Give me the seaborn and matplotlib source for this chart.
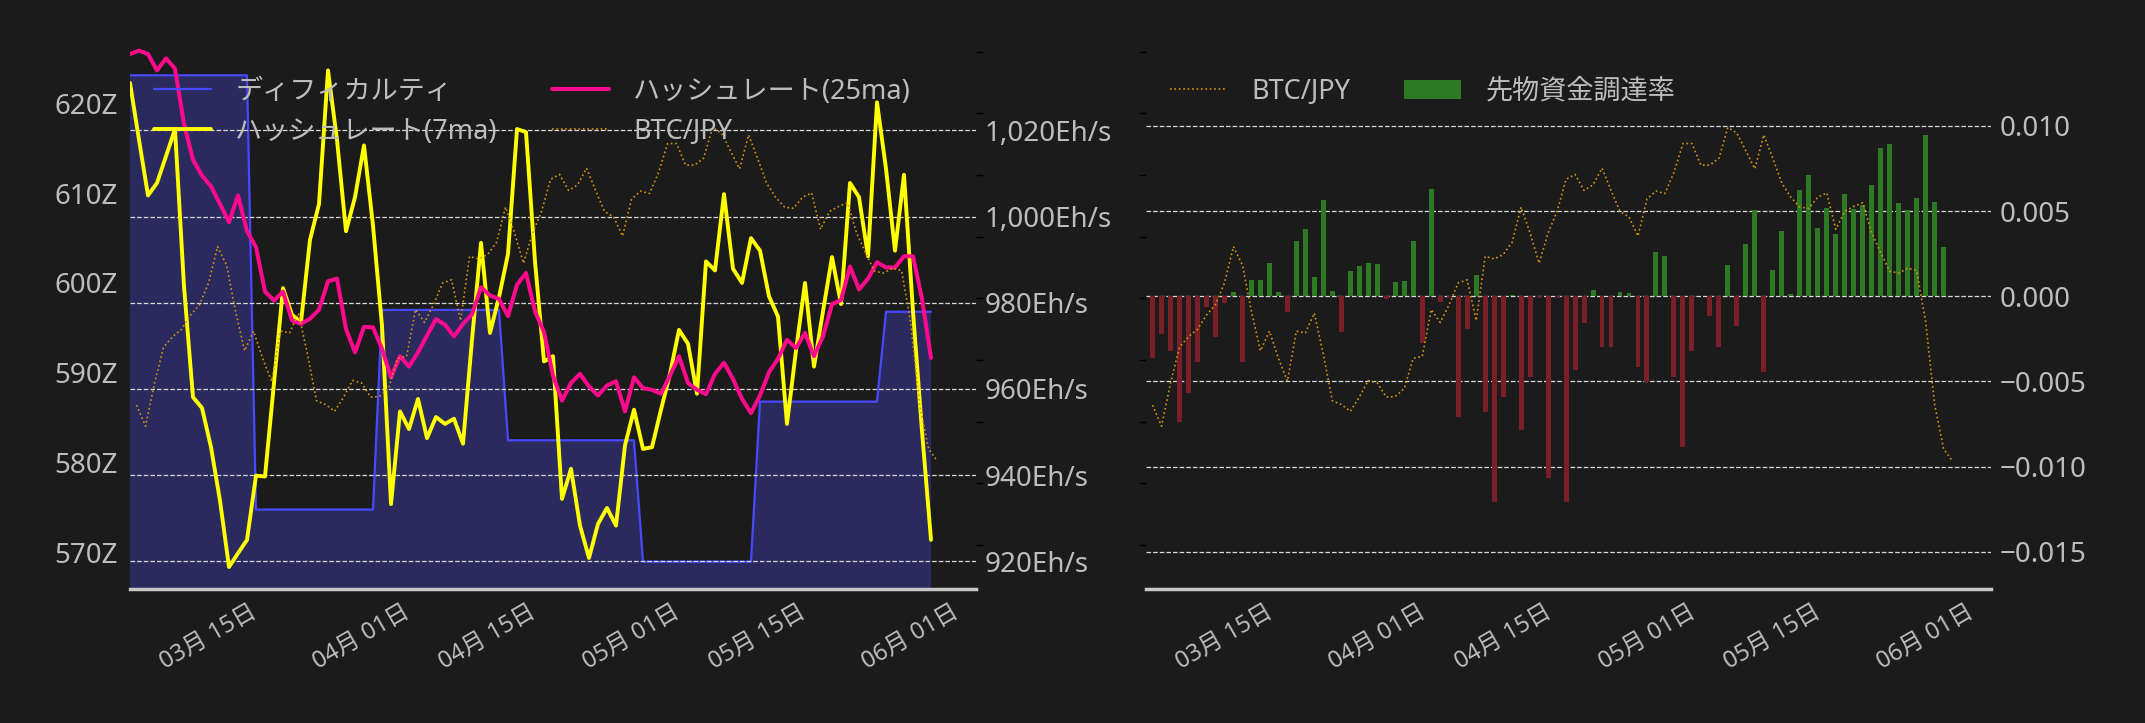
import matplotlib
matplotlib.use("Agg")
import matplotlib.pyplot as plt
import matplotlib.dates as mdates
import matplotlib.ticker as mticker
import pandas as pd
import seaborn as sns

# ---- data ----
hr_dates = pd.date_range("2025-03-06 06:30", periods=90, freq="D")
day_dates = pd.date_range("2025-03-06", periods=90, freq="D")      # 資金調達率
btc_dates = pd.date_range("2025-03-07", periods=90, freq="D")      # BTC/JPY

difficulty = [
    623.1, 623.1, 623.1, 623.1, 623.1, 623.1, 623.1, 623.1, 623.1, 623.1,
    623.1, 623.1, 623.1, 623.1, 574.8, 574.8, 574.8, 574.8, 574.8, 574.8,
    574.8, 574.8, 574.8, 574.8, 574.8, 574.8, 574.8, 574.8, 597.0, 597.0,
    597.0, 597.0, 597.0, 597.0, 597.0, 597.0, 597.0, 597.0, 597.0, 597.0,
    597.0, 597.0, 582.5, 582.5, 582.5, 582.5, 582.5, 582.5, 582.5, 582.5,
    582.5, 582.5, 582.5, 582.5, 582.5, 582.5, 582.5, 569.0, 569.0, 569.0,
    569.0, 569.0, 569.0, 569.0, 569.0, 569.0, 569.0, 569.0, 569.0, 569.0,
    586.8, 586.8, 586.8, 586.8, 586.8, 586.8, 586.8, 586.8, 586.8, 586.8,
    586.8, 586.8, 586.8, 586.8, 596.8, 596.8, 596.8, 596.8, 596.8, 596.8,
]

hash_7ma = [
    1031.0, 1017.8, 1004.9, 1007.8, 1014.0, 1020.3, 983.8, 958.1, 955.6, 946.5,
    934.1, 918.7, 921.9, 925.0, 939.9, 939.7, 961.4, 983.4, 977.2, 975.5,
    994.6, 1002.9, 1033.9, 1017.8, 996.6, 1004.5, 1016.5, 997.9, 974.7, 933.3,
    954.8, 950.7, 957.7, 948.6, 953.5, 951.9, 953.1, 947.3, 971.4, 993.9,
    973.0, 981.3, 991.3, 1020.3, 1019.6, 989.6, 966.4, 967.6, 934.5, 941.5,
    928.3, 920.8, 928.7, 932.4, 928.3, 946.9, 955.2, 946.1, 946.5, 955.2,
    963.5, 973.7, 970.5, 958.9, 989.6, 987.5, 1005.2, 987.9, 984.6, 995.0,
    992.1, 981.5, 976.8, 951.9, 968.9, 984.6, 965.2, 978.0, 990.6, 979.7,
    1007.8, 1004.5, 990.8, 1026.5, 1011.1, 992.1, 1009.7, 978.0, 950.2, 925.0,
]

hash_25ma = [
    1037.7, 1038.5, 1037.7, 1033.9, 1036.7, 1034.3, 1021.5, 1013.2, 1009.5, 1007.0,
    1002.9, 998.7, 1004.9, 996.6, 992.9, 982.6, 980.5, 982.6, 975.9, 975.1,
    976.3, 978.4, 985.0, 985.6, 973.9, 968.5, 974.4, 974.3, 969.3, 962.7,
    967.6, 965.2, 968.5, 972.4, 976.2, 974.9, 972.2, 975.1, 977.3, 983.6,
    981.7, 980.9, 976.9, 984.2, 986.9, 978.0, 973.2, 963.1, 957.3, 961.4,
    963.5, 960.6, 958.5, 960.8, 961.8, 954.8, 962.7, 960.2, 959.8, 958.9,
    963.1, 967.6, 961.4, 959.8, 958.8, 963.5, 966.1, 962.3, 957.7, 954.4,
    958.5, 963.9, 967.0, 971.4, 969.5, 973.0, 967.6, 972.2, 979.7, 980.6,
    988.4, 983.1, 985.6, 989.4, 988.2, 988.2, 990.8, 990.8, 980.9, 967.2,
]

# BTC/JPY (百万円)
btc_jpy = [
    11.27, 10.93, 11.63, 12.21, 12.38, 12.50, 12.73, 12.90, 13.25, 13.84,
    13.54, 12.79, 12.15, 12.47, 12.03, 11.66, 12.47, 12.44, 12.76, 12.09,
    11.34, 11.28, 11.17, 11.40, 11.67, 11.63, 11.40, 11.41, 11.54, 12.03,
    12.06, 12.82, 12.61, 12.90, 13.25, 13.30, 12.64, 13.68, 13.64, 13.71,
    13.91, 14.48, 14.06, 13.57, 14.06, 14.41, 14.93, 15.01, 14.75, 14.84,
    15.11, 14.75, 14.41, 14.32, 14.01, 14.61, 14.74, 14.70, 15.04, 15.51,
    15.51, 15.16, 15.16, 15.27, 15.77, 15.68, 15.39, 15.10, 15.65, 15.27,
    14.87, 14.64, 14.48, 14.46, 14.64, 14.71, 14.12, 14.41, 14.49, 14.55,
    14.06, 13.74, 13.44, 13.41, 13.49, 13.45, 12.62, 11.28, 10.56, 10.36,
]

funding = [
    0.00038, -0.00365, -0.00224, -0.00319, -0.0074, -0.0057, -0.00388, -0.00061, -0.00237, -0.00042,
    0.00025, -0.00384, 0.00096, 0.00096, 0.00197, 0.00025, -0.00094, 0.00325, 0.00396, 0.00113,
    0.00566, 0.00031, -0.00212, 0.00149, 0.00178, 0.00197, 0.00191, -0.00013, 0.00084, 0.0009,
    0.00325, -0.00277, 0.00631, -0.00031, -0.00005, -0.0071, -0.00189, 0.00126, -0.00677, -0.01205,
    -0.00593, 0.00006, -0.00782, -0.00472, -0.00004, -0.01069, -0.00004, -0.01209, -0.0043, -0.00159,
    0.00038, -0.003, -0.00295, 0.00025, 0.00021, -0.00417, -0.00503, 0.0026, 0.00237, -0.00472,
    -0.00882, -0.00319, 0.0, -0.00113, -0.003, 0.00184, -0.00172, 0.00308, 0.00507, -0.00442,
    0.00155, 0.00383, 0.00015, 0.00624, 0.00712, 0.00402, 0.0052, 0.00367, 0.00601, 0.00513,
    0.00536, 0.00654, 0.00872, 0.00895, 0.00549, 0.00505, 0.00578, 0.00947, 0.00553, 0.00289,
]

# ---- style ----
BG = "#1b1b1b"
TXT = "#bdbdbd"
sns.set_theme(style="dark", rc={
    "axes.facecolor": BG, "figure.facecolor": BG,
    "text.color": TXT, "xtick.color": "black", "ytick.color": "black",
    "xtick.labelcolor": TXT, "ytick.labelcolor": TXT,
})
plt.rcParams["font.family"] = ["Noto Sans", "Noto Sans CJK JP", "DejaVu Sans"]

W, H = 2145, 723
fig = plt.figure(figsize=(W / 100, H / 100), dpi=100)
top, bottom = 45, 589


def panel(x0, x1):
    return fig.add_axes([x0 / W, (H - bottom) / H, (x1 - x0) / W, (bottom - top) / H])


xlim = (pd.Timestamp("2025-03-06 06:30"), pd.Timestamp("2025-06-08 06:30"))


def style_x(ax):
    ax.set_xlim(xlim)
    ax.xaxis.set_major_locator(mdates.DayLocator(bymonthday=[1, 15]))
    ax.xaxis.set_major_formatter(mdates.DateFormatter("%m月 %d日"))
    ax.tick_params(axis="x", length=4, width=1, pad=4, labelsize=17)
    for lab in ax.get_xticklabels():
        lab.set_rotation(30)
        lab.set_ha("center")
    for s in ["top", "left", "right"]:
        ax.spines[s].set_visible(False)
    ax.spines["bottom"].set_color("#c8c8c8")
    ax.spines["bottom"].set_linewidth(2.5)


def hide_spines(ax):
    for s in ax.spines.values():
        s.set_visible(False)


leg_kw = dict(ncol=2, loc="upper left", frameon=False, fontsize=19.5,
              borderpad=0, borderaxespad=0, handlelength=2.1,
              handletextpad=0.9, columnspacing=2.0, labelspacing=0.45,
              labelcolor=TXT)

# ---- left panel ----
ax1 = panel(130, 976)
ax1.fill_between(hr_dates, difficulty, 500, color="#2a2a5e", lw=0)
sns.lineplot(x=hr_dates, y=difficulty, ax=ax1, color="#4848ff", lw=1.6,
             label="ディフィカルティ", legend=False)
ax1.set_ylim(565.96, 626.47)
ax1.set_yticks([570, 580, 590, 600, 610, 620])
ax1.yaxis.set_major_formatter(mticker.FuncFormatter(lambda v, p: f"{v:.0f}Z"))
ax1.tick_params(axis="y", length=0, pad=8.5, labelsize=20)
ax1.set_xlabel("")
ax1.set_ylabel("")
style_x(ax1)

ax2 = ax1.twinx()
sns.lineplot(x=hr_dates, y=hash_7ma, ax=ax2, color="#ffff00", lw=2.8,
             label="ハッシュレート(7ma)", legend=False)
sns.lineplot(x=hr_dates, y=hash_25ma, ax=ax2, color="#ff0a8c", lw=2.9,
             label="ハッシュレート(25ma)", legend=False)
ax2.set_ylim(913.6, 1039.8)
ax2.set_yticks([920, 940, 960, 980, 1000, 1020])
ax2.yaxis.set_major_formatter(mticker.FuncFormatter(lambda v, p: f"{v:,.0f}Eh/s"))
ax2.tick_params(axis="y", length=0, pad=6.5, labelsize=20)
ax2.grid(axis="y", color="#d8d8d8", ls="--", lw=0.9)
ax2.grid(axis="x", visible=False)
ax2.set_ylabel("")
hide_spines(ax2)

ax3 = ax1.twinx()
sns.lineplot(x=btc_dates, y=btc_jpy, ax=ax3, color="#d4940a", lw=1.2, ls=":",
             label="BTC/JPY", legend=False)
ax3.set_ylim(8.29, 17.107)
ax3.set_yticks(range(9, 18))
ax3.tick_params(axis="y", length=5, width=1, labelright=False)
ax3.set_ylabel("")
hide_spines(ax3)
ax3.set_xlim(xlim)

h1, l1 = ax1.get_legend_handles_labels()
h2, l2 = ax2.get_legend_handles_labels()
h3, l3 = ax3.get_legend_handles_labels()
ax3.legend([h1[0], h2[0], h2[1], h3[0]], [l1[0], l2[0], l2[1], l3[0]],
           bbox_to_anchor=(24 / 846, 0.94), **leg_kw)

# ---- right panel ----
axf = panel(1146, 1991)
bar_colors = ["#2e7a24" if v >= 0 else "#7a1f28" for v in funding]
axf.bar(day_dates, funding, width=0.55, color=bar_colors, edgecolor="none",
        linewidth=0, label="先物資金調達率")
axf.set_ylim(-0.01718, 0.01475)
axf.set_yticks([-0.015, -0.010, -0.005, 0.0, 0.005, 0.010])
axf.yaxis.set_major_formatter(mticker.FuncFormatter(lambda v, p: f"{v:.3f}".replace("-", "\u2212")))
axf.grid(axis="y", color="#d8d8d8", ls="--", lw=0.9)
axf.grid(axis="x", visible=False)
style_x(axf)

axb = axf.twinx()
sns.lineplot(x=btc_dates, y=btc_jpy, ax=axb, color="#d4940a", lw=1.2, ls=":",
             label="BTC/JPY", legend=False)
axb.set_ylim(8.29, 17.107)
axb.set_yticks(range(9, 18))
axb.yaxis.tick_left()
axb.tick_params(axis="y", length=5, width=1, labelleft=False, labelright=False)
axb.set_ylabel("")
hide_spines(axb)
axb.set_xlim(xlim)

# twinx moved the funding ticks to the left; put them back on the right
axf.yaxis.tick_right()
axf.tick_params(axis="y", length=0, pad=6.5, labelsize=20,
                labelright=True, labelleft=False)

hb, lb = axb.get_legend_handles_labels()
hf, lf = axf.get_legend_handles_labels()
axb.legend(hb + hf, lb + lf, bbox_to_anchor=(24 / 845, 0.94), **leg_kw)

fig.savefig("out.png", dpi=100, facecolor=BG)
